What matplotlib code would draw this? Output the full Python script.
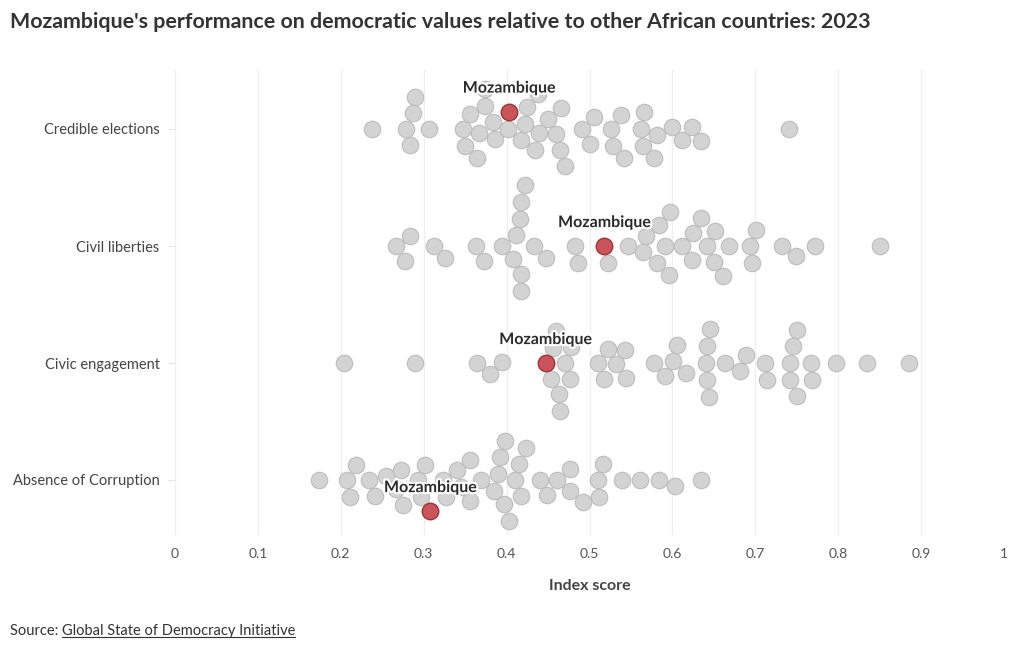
import numpy as np
import matplotlib
matplotlib.use("Agg")
import matplotlib.pyplot as plt
import matplotlib.patheffects as pe

plt.rcParams["font.family"] = ["Lato", "DejaVu Sans"]

# ---------------------------
# Data (index scores)
# ---------------------------
categories = ["Credible elections", "Civil liberties", "Civic engagement", "Absence of Corruption"]

credible = [0.238, 0.284, 0.279, 0.306, 0.290, 0.287, 0.356, 0.374, 0.350, 0.386,
            0.347, 0.364, 0.383, 0.367, 0.374, 0.402, 0.417, 0.438, 0.422, 0.434,
            0.439, 0.450, 0.460, 0.464, 0.466, 0.471, 0.425, 0.491, 0.501, 0.506,
            0.526, 0.528, 0.542, 0.538, 0.564, 0.578, 0.562, 0.566, 0.581, 0.599,
            0.612, 0.624, 0.635, 0.741]
civil = [0.267, 0.277, 0.284, 0.312, 0.326, 0.363, 0.373, 0.395, 0.408, 0.417,
         0.416, 0.417, 0.417, 0.411, 0.422, 0.433, 0.448, 0.486, 0.483, 0.522,
         0.546, 0.568, 0.565, 0.581, 0.596, 0.584, 0.597, 0.591, 0.612, 0.624,
         0.625, 0.642, 0.635, 0.650, 0.661, 0.668, 0.651, 0.701, 0.696, 0.694,
         0.732, 0.749, 0.772, 0.851]
civic = [0.204, 0.290, 0.364, 0.380, 0.395, 0.463, 0.456, 0.476, 0.459, 0.478,
         0.453, 0.470, 0.464, 0.510, 0.517, 0.544, 0.532, 0.522, 0.543, 0.578,
         0.591, 0.605, 0.616, 0.601, 0.642, 0.645, 0.644, 0.642, 0.640, 0.663,
         0.681, 0.689, 0.714, 0.712, 0.742, 0.750, 0.768, 0.767, 0.750, 0.742,
         0.745, 0.797, 0.835, 0.885]
corruption = [0.174, 0.211, 0.208, 0.218, 0.241, 0.234, 0.254, 0.267, 0.275, 0.273,
              0.293, 0.297, 0.302, 0.327, 0.323, 0.340, 0.345, 0.356, 0.356, 0.369,
              0.385, 0.410, 0.397, 0.415, 0.398, 0.417, 0.390, 0.403, 0.424, 0.392,
              0.440, 0.449, 0.461, 0.477, 0.477, 0.492, 0.510, 0.516, 0.512, 0.539,
              0.561, 0.584, 0.603, 0.635]
others = [credible, civil, civic, corruption]
mozambique = [0.403, 0.518, 0.447, 0.308]

x_ticks = [0, 0.1, 0.2, 0.3, 0.4, 0.5, 0.6, 0.7, 0.8, 0.9, 1]
x_tick_labels = ["0", "0.1", "0.2", "0.3", "0.4", "0.5", "0.6", "0.7", "0.8", "0.9", "1"]

# ---------------------------
# Layout constants (pixels)
# ---------------------------
W, H = 1020, 650
AX_LEFT, AX_RIGHT, AX_TOP, AX_BOTTOM = 175, 1004, 70, 535
ROW_GAP = 117          # pixels between category rows
DIAM = 17.0            # dot diameter in pixels (collision distance)

GREY, GREY_EDGE = "#d3d3d3", "#bcbcbc"
RED, RED_EDGE = "#c9555b", "#9e3338"


def swarm_offsets(xs_px, diam):
    """Simple beeswarm: place each dot at the closest free vertical offset."""
    order = np.argsort(xs_px, kind="stable")
    placed = []
    offsets = np.zeros(len(xs_px))
    for i in order:
        x = xs_px[i]
        cands = [0.0]
        for px, py in placed:
            dx = abs(px - x)
            if dx < diam:
                h = np.sqrt(diam ** 2 - dx ** 2)
                cands += [py + h, py - h]
        cands.sort(key=lambda c: (abs(c), -c))
        for c in cands:
            if all((px - x) ** 2 + (py - c) ** 2 >= diam ** 2 - 1e-6 for px, py in placed):
                break
        placed.append((x, c))
        offsets[i] = c
    return offsets


fig = plt.figure(figsize=(W / 100, H / 100), dpi=100)
ax = fig.add_axes([AX_LEFT / W, (H - AX_BOTTOM) / H,
                   (AX_RIGHT - AX_LEFT) / W, (AX_BOTTOM - AX_TOP) / H])

n = len(categories)
row_y = [n - 1 - i for i in range(n)]   # top row highest
px_per_x = AX_RIGHT - AX_LEFT
marker_s = (DIAM * 0.97 * 72 / 100) ** 2

for i, cat in enumerate(categories):
    vals = np.array(others[i] + [mozambique[i]])
    offs = swarm_offsets(vals * px_per_x, DIAM) / ROW_GAP
    ys = row_y[i] - offs
    ax.scatter(vals[:-1], ys[:-1], s=marker_s, color=GREY, edgecolor=GREY_EDGE,
               linewidth=0.8, zorder=3)
    ax.scatter(vals[-1:], ys[-1:], s=marker_s, color=RED, edgecolor=RED_EDGE,
               linewidth=1.0, zorder=4)
    ax.annotate("Mozambique", (vals[-1], ys[-1]), xytext=(0, 16.5),
                textcoords="offset points", ha="center", va="center",
                fontsize=11.5, fontweight="bold", color="#2b2b2b", zorder=5,
                path_effects=[pe.withStroke(linewidth=3, foreground="white")])

ax.set_xlim(0, 1)
ax.set_ylim(-(AX_BOTTOM - 480) / ROW_GAP, (480 - AX_TOP) / ROW_GAP)
ax.set_xticks(x_ticks)
ax.set_xticklabels(x_tick_labels)
ax.set_yticks(row_y)
ax.set_yticklabels(categories)
ax.grid(axis="x", color="#efefef", linewidth=0.9, zorder=0)
ax.set_axisbelow(True)
for s in ax.spines.values():
    s.set_visible(False)
ax.tick_params(axis="x", length=0, pad=9, labelsize=10, labelcolor="#555555")
ax.tick_params(axis="y", length=5, width=0.8, color="#e6e6e6", pad=6,
               labelsize=10.5, labelcolor="#444444")
ax.set_xlabel("Index score", fontsize=11.5, fontweight="bold", color="#444444",
              labelpad=14)

fig.text(10 / W, 1 - 22 / H, "Mozambique's performance on democratic values relative to other African countries: 2023",
         fontsize=15.4, fontweight="bold", color="#333333", va="center", ha="left")

src = fig.text(10 / W, 1 - 631 / H, "Source: ", fontsize=10.5, color="#333333",
               va="center", ha="left")
fig.canvas.draw()
bb = src.get_window_extent()
link = fig.text(bb.x1 / W, 1 - 631 / H, "Global State of Democracy Initiative",
                fontsize=10.5, color="#333333", va="center", ha="left")
fig.canvas.draw()
lb = link.get_window_extent()
fig.add_artist(plt.Line2D([lb.x0 / W, lb.x1 / W], [(lb.y0 + 1) / H] * 2,
                          color="#333333", linewidth=0.8))

fig.savefig("out.png", dpi=100)
